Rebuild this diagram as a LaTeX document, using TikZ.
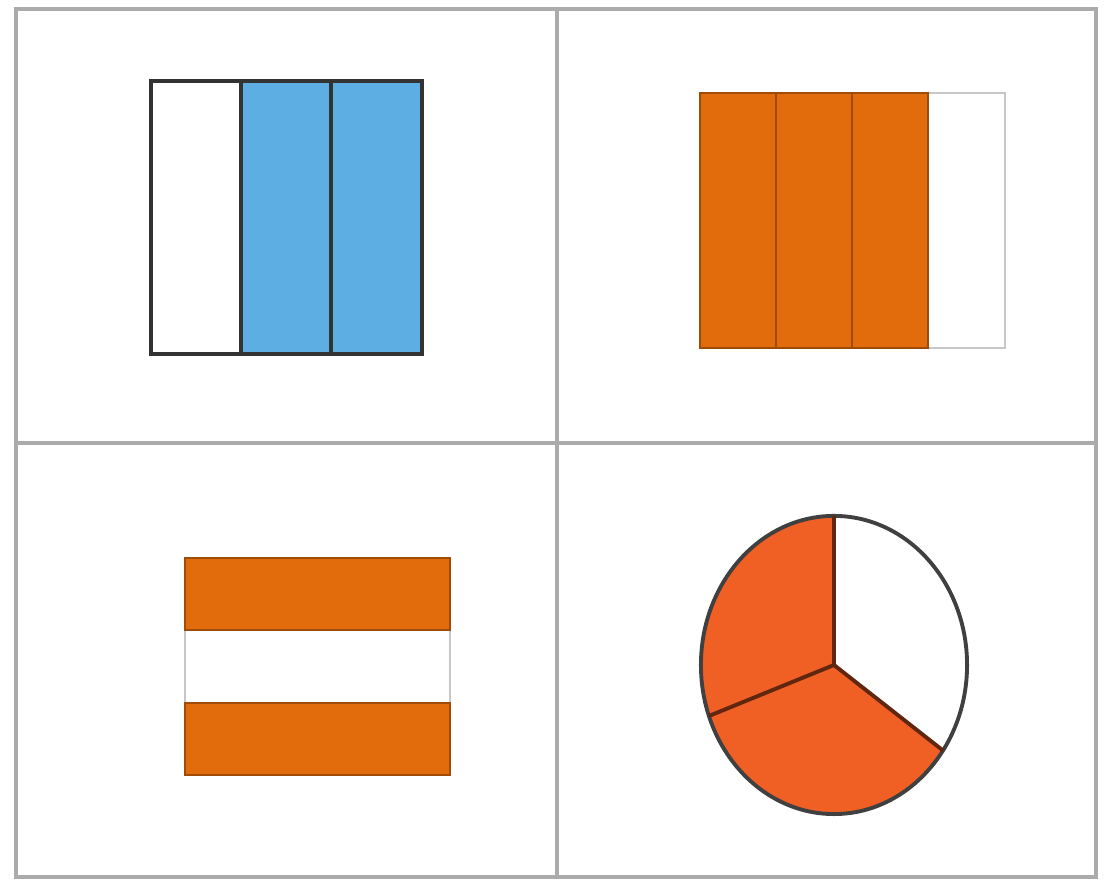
\documentclass[tikz,border=0pt]{standalone}
\usetikzlibrary{calc}
\definecolor{barblue}{RGB}{93,175,227}
\definecolor{barorange}{RGB}{226,108,12}
\definecolor{pieorange}{RGB}{240,95,36}
\tikzset{
  gridline/.style={draw=black!33, line width=0.9pt},
  bluepart/.style={fill=barblue},
  bluebox/.style={draw=black!80, line width=1.4pt},
  orangepart/.style={fill=barorange, draw=barorange!70!black, line width=0.8pt},
  emptypart/.style={fill=white, draw=black!22, line width=0.8pt},
  piepart/.style={fill=pieorange},
  pieedge/.style={draw=black!75, line width=1.1pt},
  piespoke/.style={draw=pieorange!40!black, line width=1.1pt}
}
\begin{document}
\begin{tikzpicture}[x=0.01cm, y=-0.01cm]
  \useasboundingbox (0,0) rectangle (1114,886);
  % grid of four cells
  \draw[gridline] (16,9) rectangle (1096,877);
  \draw[gridline] (557,9) -- (557,877);
  \draw[gridline] (16,443) -- (1096,443);
  % top left: two of three parts blue
  \fill[bluepart] (241,81) rectangle (422,354);
  \draw[bluebox] (241,81) -- (241,354) (331,81) -- (331,354);
  \draw[bluebox] (151,81) rectangle (422,354);
  % top right: three of four parts orange
  \draw[emptypart] (928,93) rectangle (1005,348);
  \foreach \xa/\xb in {700/776, 776/852, 852/928}
    \draw[orangepart] (\xa,93) rectangle (\xb,348);
  % bottom left: two of three bands orange
  \draw[emptypart] (185,630) rectangle (450,703);
  \draw[orangepart] (185,558) rectangle (450,630);
  \draw[orangepart] (185,703) rectangle (450,775);
  % bottom right: pie
  \begin{scope}[shift={(834,665)}, x=1.33cm, y=1.49cm]
    \fill[piepart] (0,0) -- (90:1) arc[start angle=90, end angle=325, radius=1] -- cycle;
    \draw[pieedge] (0,0) circle[radius=1];
    \draw[piespoke] (90:1) -- (0,0) -- (200:1) (0,0) -- (325:1);
  \end{scope}
\end{tikzpicture}
\end{document}
